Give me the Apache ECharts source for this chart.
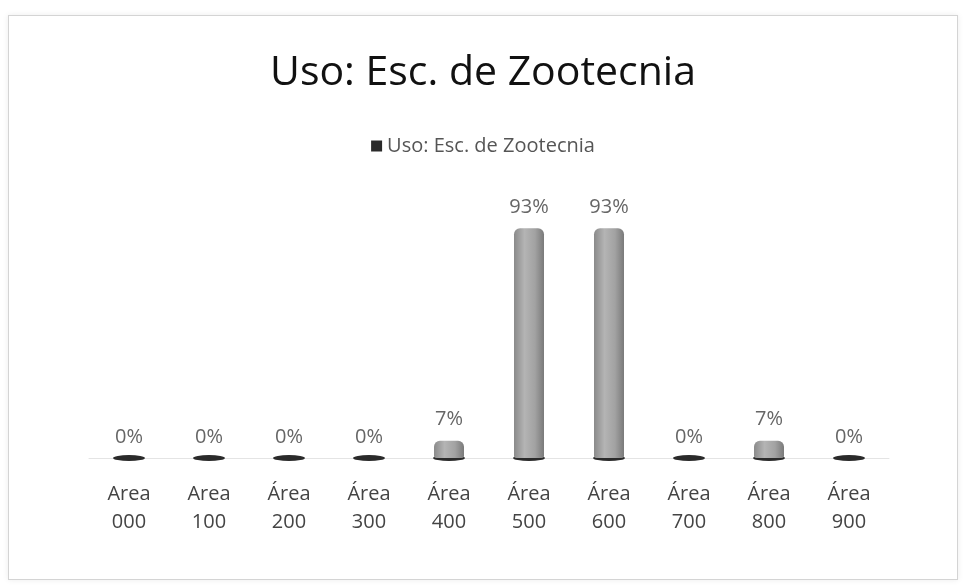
<!DOCTYPE html>
<html>
<head>
<meta charset="utf-8">
<script src="https://cdn.jsdelivr.net/npm/echarts@6/dist/echarts.min.js"></script>
<style>
  html, body { margin: 0; padding: 0; background: #ffffff; }
  #frame {
    position: absolute; left: 8px; top: 15px; width: 948px; height: 563px;
    border: 1px solid #d4d4d4; box-shadow: 0 0 6px rgba(0,0,0,0.08);
  }
  #chart { position: absolute; left: 0; top: 0; width: 966px; height: 585px; }
</style>
</head>
<body>
<div id="frame"></div>
<div id="chart"></div>
<script>
// data
var categories = ['Area\n000', 'Area\n100', 'Área\n200', 'Área\n300', 'Área\n400',
                  'Área\n500', 'Área\n600', 'Área\n700', 'Área\n800', 'Área\n900'];
var usage = [0, 0, 0, 0, 7, 93, 93, 0, 7, 0];
var seriesName = 'Uso: Esc. de Zootecnia';

var font = "'Open Sans', sans-serif";

var chart = echarts.init(document.getElementById('chart'));
chart.setOption({
    backgroundColor: 'transparent',
    title: {
        text: seriesName,
        left: 'center',
        top: 48,
        textStyle: { fontFamily: font, fontSize: 41, fontWeight: 'normal', color: '#111' }
    },
    legend: {
        data: [seriesName],
        top: 131,
        left: 'center',
        itemWidth: 11,
        itemHeight: 11,
        itemGap: 4,
        icon: 'rect',
        textStyle: { fontFamily: font, fontSize: 20, color: '#555' }
    },
    grid: { left: 89, right: 77, top: 211, bottom: 127 },
    xAxis: {
        type: 'category',
        data: categories,
        axisLine: { show: true, lineStyle: { color: '#e4e4e4' } },
        axisTick: { show: false },
        axisLabel: {
            margin: 22,
            fontFamily: font,
            fontSize: 20,
            lineHeight: 28,
            color: '#444'
        }
    },
    yAxis: {
        type: 'value',
        min: 0,
        max: 100,
        show: false
    },
    series: [
        {
            name: seriesName,
            type: 'pictorialBar',
            data: usage,
            symbol: 'circle',
            symbolSize: [32, 6],
            symbolPosition: 'start',
            symbolOffset: [0, '50%'],
            itemStyle: { color: '#2a2a2a' },
            z: 1,
            legendHoverLink: false,
            tooltip: { show: false }
        },
        {
            name: seriesName,
            type: 'bar',
            data: usage,
            barWidth: 30,
            z: 2,
            itemStyle: {
                color: new echarts.graphic.LinearGradient(0, 0, 1, 0, [
                    { offset: 0, color: '#8a8a8a' },
                    { offset: 0.35, color: '#b4b4b4' },
                    { offset: 0.7, color: '#a2a2a2' },
                    { offset: 1, color: '#7a7a7a' }
                ]),
                borderRadius: [6, 6, 2, 2]
            },
            label: {
                show: true,
                position: 'top',
                distance: 11,
                formatter: '{c}%',
                fontFamily: font,
                fontSize: 20,
                color: '#666'
            }
        }
    ]
});
</script>
</body>
</html>
